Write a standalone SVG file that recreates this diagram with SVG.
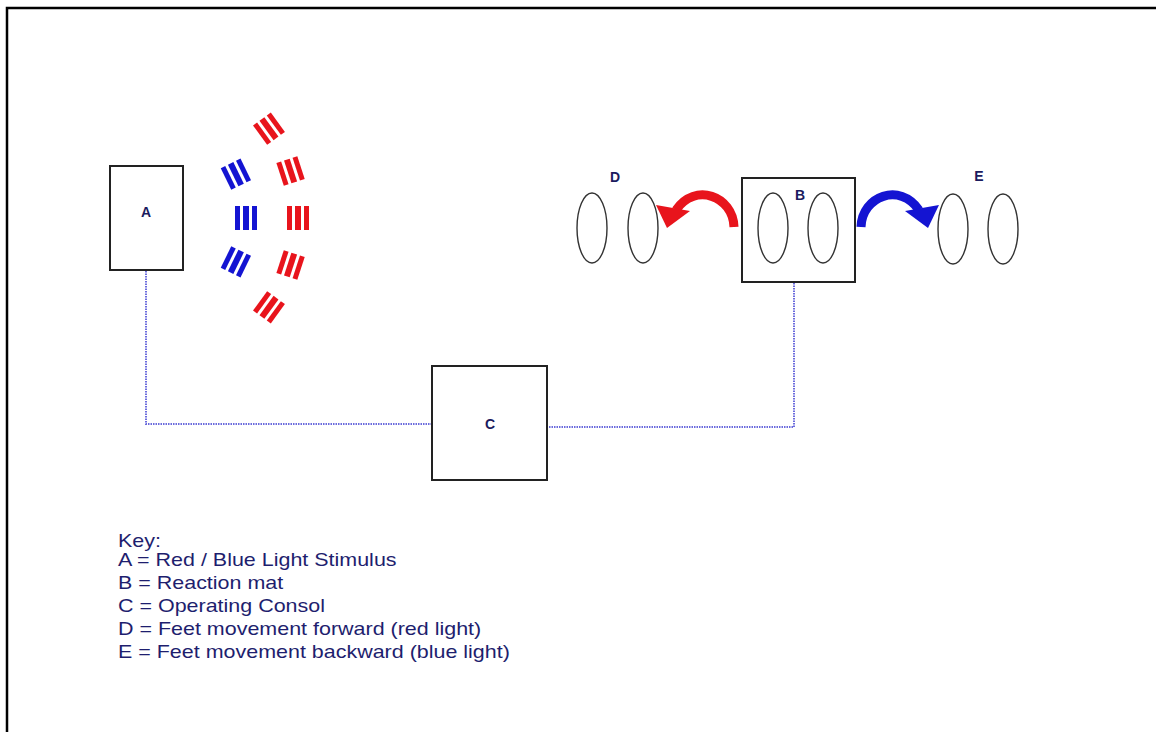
<svg xmlns="http://www.w3.org/2000/svg" xmlns:xlink="http://www.w3.org/1999/xlink" width="1156" height="732" viewBox="0 0 1156 732">
<style>
.box{fill:#fff;stroke:#222;stroke-width:2}
.lbl{font-family:"Liberation Sans",Arial,sans-serif;font-weight:bold;font-size:14px;fill:#1b1b5e;text-anchor:middle}
.foot{fill:none;stroke:#333;stroke-width:1.4}
.conn{fill:none;stroke:#6b6bdc;stroke-width:2;stroke-dasharray:1.5 1}
.key{font-family:"Liberation Sans",Arial,sans-serif;font-size:19px;fill:#1e1e6e}
.red{fill:#e8141c}
.blue{fill:#1414d2}
</style>
<defs>
<g id="bars">
<rect x="-11" y="-12" width="5" height="24"/>
<rect x="-3" y="-12" width="6" height="24"/>
<rect x="6" y="-12" width="5" height="24"/>
</g>
</defs>
<rect x="0" y="0" width="1156" height="732" fill="#fff"/>
<path d="M7 732 V8 H1156" fill="none" stroke="#000" stroke-width="2.5"/>

<g id="connectors">
<path class="conn" d="M146 271 V424 H432"/>
<path class="conn" d="M794 283 V427 H548"/>
</g>

<g id="node-A">
<rect class="box" x="110" y="166" width="73" height="104"/>
<text class="lbl" x="146" y="217">A</text>
</g>

<g id="lights">
<g class="red">
<use xlink:href="#bars" transform="rotate(-36 146 218) translate(298 218)"/>
<use xlink:href="#bars" transform="rotate(-18 146 218) translate(298 218)"/>
<use xlink:href="#bars" transform="rotate(0 146 218) translate(298 218)"/>
<use xlink:href="#bars" transform="rotate(18 146 218) translate(298 218)"/>
<use xlink:href="#bars" transform="rotate(36 146 218) translate(298 218)"/>
</g>
<g class="blue">
<use xlink:href="#bars" transform="rotate(-26 146 218) translate(246 218)"/>
<use xlink:href="#bars" transform="rotate(0 146 218) translate(246 218)"/>
<use xlink:href="#bars" transform="rotate(26 146 218) translate(246 218)"/>
</g>
</g>

<g id="node-D">
<ellipse class="foot" cx="592" cy="228" rx="15" ry="35"/>
<ellipse class="foot" cx="643" cy="228" rx="15" ry="35"/>
<text class="lbl" x="615" y="182">D</text>
</g>

<g id="node-B">
<rect class="box" x="742" y="178" width="113" height="104"/>
<ellipse class="foot" cx="773" cy="228" rx="15" ry="35"/>
<ellipse class="foot" cx="823" cy="228" rx="15" ry="35"/>
<text class="lbl" x="800" y="200">B</text>
</g>

<g id="node-E">
<ellipse class="foot" cx="953" cy="229" rx="15" ry="35"/>
<ellipse class="foot" cx="1003" cy="229" rx="15" ry="35"/>
<text class="lbl" x="979" y="181">E</text>
</g>

<g id="arrow-red">
<path d="M734 227 C733 196 695 182 676 210" fill="none" stroke="#e8141c" stroke-width="9"/>
<polygon points="656,205 690,211 667,228" fill="#e8141c"/>
</g>
<g id="arrow-blue">
<path d="M861 227 C862 196 900 182 919 210" fill="none" stroke="#1414d2" stroke-width="9"/>
<polygon points="939,205 905,211 928,228" fill="#1414d2"/>
</g>

<g id="node-C">
<rect class="box" x="432" y="366" width="115" height="114"/>
<text class="lbl" x="490" y="429">C</text>
</g>

<g id="key" transform="translate(118 0) scale(1.13 1) translate(-118 0)">
<text class="key" x="118" y="547">Key:</text>
<text class="key" x="118" y="566">A = Red / Blue Light Stimulus</text>
<text class="key" x="118" y="589">B = Reaction mat</text>
<text class="key" x="118" y="612">C = Operating Consol</text>
<text class="key" x="118" y="635">D = Feet movement forward (red light)</text>
<text class="key" x="118" y="658">E = Feet movement backward (blue light)</text>
</g>
</svg>
